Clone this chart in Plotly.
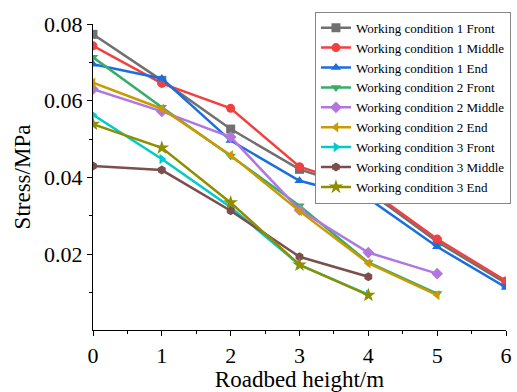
import plotly.graph_objects as go

heights = [0, 1, 2, 3, 4, 5, 6]

wc1_front = [0.0773, 0.0653, 0.0526, 0.0421, 0.0363, 0.0232, 0.0124]
wc1_middle = [0.0743, 0.0645, 0.0580, 0.0428, 0.0369, 0.0239, 0.0130]
wc1_end = [0.0695, 0.0658, 0.0496, 0.0391, 0.0345, 0.0219, 0.0113]
wc2_front = [0.0713, 0.0583, 0.0456, 0.0326, 0.0178, 0.0097]
wc2_middle = [0.0630, 0.0572, 0.0505, 0.0315, 0.0204, 0.0149]
wc2_end = [0.0647, 0.0579, 0.0458, 0.0312, 0.0176, 0.0093]
wc3_front = [0.0563, 0.0448, 0.0322, 0.0172, 0.0094]
wc3_middle = [0.0430, 0.0419, 0.0313, 0.0193, 0.0141]
wc3_end = [0.0539, 0.0477, 0.0334, 0.0172, 0.0093]

names = ["Working condition 1 Front", "Working condition 1 Middle", "Working condition 1 End",
         "Working condition 2 Front", "Working condition 2 Middle", "Working condition 2 End",
         "Working condition 3 Front", "Working condition 3 Middle", "Working condition 3 End"]
series = [wc1_front, wc1_middle, wc1_end, wc2_front, wc2_middle, wc2_end,
          wc3_front, wc3_middle, wc3_end]
colors = ["#707070", "#F14040", "#1A6FDF", "#37AD6B", "#B177DE", "#CC9900",
          "#00CBCC", "#7D4E4E", "#8E8E00"]
symbols = ["square", "circle", "triangle-up", "triangle-down", "diamond",
           "triangle-left", "triangle-right", "hexagon", "star"]

fig = go.Figure()
for name, ys, c, s in zip(names, series, colors, symbols):
    fig.add_trace(go.Scatter(
        x=heights[:len(ys)], y=ys, name=name, mode="lines+markers",
        line=dict(color=c, width=2.5),
        marker=dict(symbol=s, size=9 if s != "star" else 11, color=c),
    ))

font = "Liberation Serif"
fig.update_layout(
    width=517, height=392,
    margin=dict(l=93, r=6, t=24, b=62),
    paper_bgcolor="white", plot_bgcolor="white",
    font=dict(family=font, color="black"),
    showlegend=True,
    legend=dict(
        x=1.012, xanchor="right", y=1.04, yanchor="top",
        bgcolor="white", bordercolor="#888888", borderwidth=1,
        font=dict(family=font, size=13, color="black"),
        tracegroupgap=0, itemwidth=30, maxheight=380,
    ),
    xaxis=dict(
        range=[0, 6], tickvals=[0, 1, 2, 3, 4, 5, 6],
        showgrid=False, zeroline=False,
        showline=True, linecolor="black", linewidth=1.3,
        ticks="outside", ticklen=5, tickwidth=1.2, tickcolor="black",
        minor=dict(dtick=0.5, ticks="outside", ticklen=3, tickcolor="black", tickwidth=1),
        tickfont=dict(family=font, size=22),
        title=dict(text="Roadbed height/m", font=dict(family=font, size=23), standoff=2),
    ),
    yaxis=dict(
        range=[0.0002, 0.08], tickvals=[0.02, 0.04, 0.06, 0.08],
        ticktext=["0.02", "0.04", "0.06", "0.08"],
        showgrid=False, zeroline=False,
        showline=True, linecolor="black", linewidth=1.3,
        ticks="outside", ticklen=5, tickwidth=1.2, tickcolor="black",
        minor=dict(tickvals=[0.01, 0.03, 0.05, 0.07], ticks="outside", ticklen=3,
                   tickcolor="black", tickwidth=1),
        tickfont=dict(family=font, size=22),
        title=dict(text="Stress/MPa", font=dict(family=font, size=23), standoff=6),
    ),
)
fig.write_html("out.html")
